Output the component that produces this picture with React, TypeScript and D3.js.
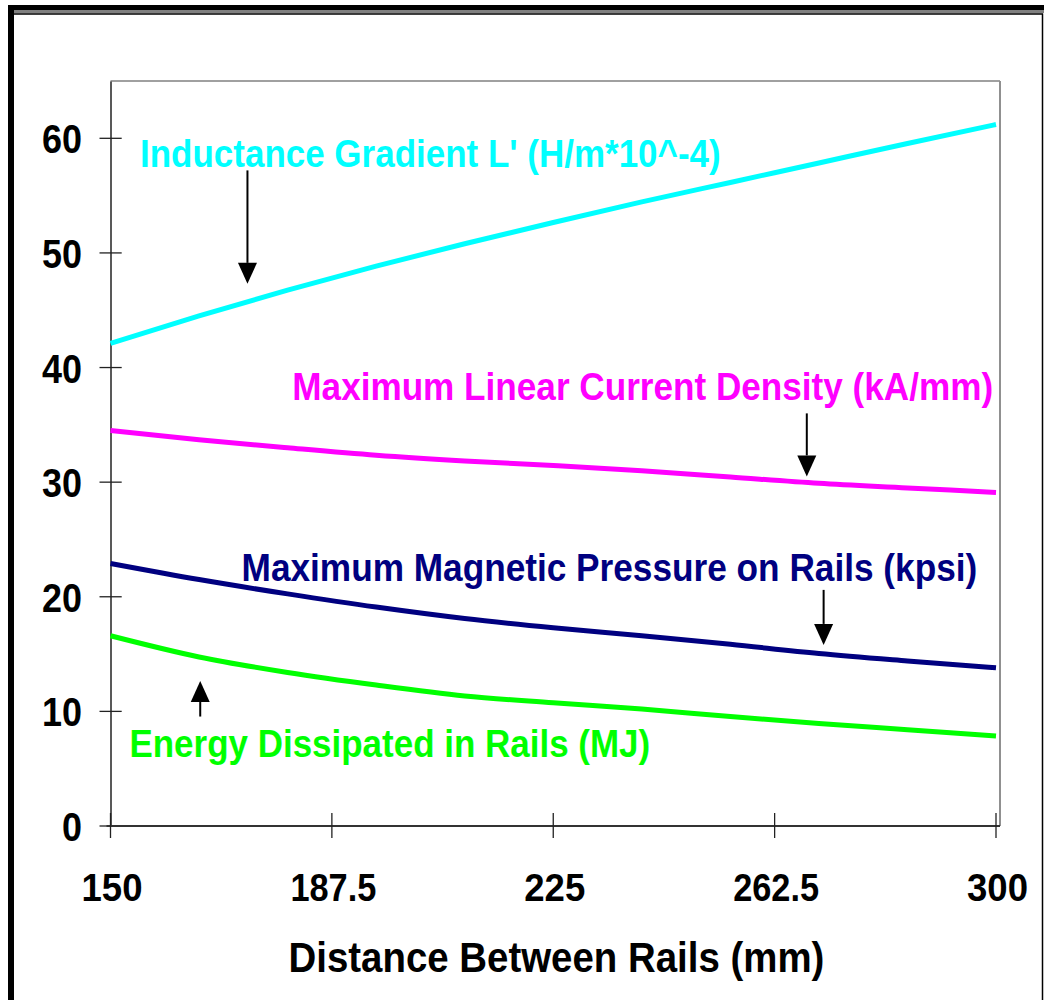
import React, { useEffect, useRef } from "react";
import * as d3 from "d3";

const WIDTH = 1044;
const HEIGHT = 1000;
const PLOT = { LEFT: 110.5, RIGHT: 996, TOP: 81, BOTTOM: 826, FRAME_RIGHT: 1000 };

// distance between rails (mm)
const distance = [150, 165, 180, 195, 210, 225, 240, 255, 270, 285, 300];
const inductance = [42.1, 44.5, 46.75, 48.85, 50.8, 52.65, 54.45, 56.15, 57.85, 59.55, 61.2];
const currentDensity = [34.5, 33.7, 33.0, 32.35, 31.85, 31.45, 31.0, 30.45, 29.9, 29.5, 29.1];
const pressure = [22.9, 21.5, 20.25, 19.1, 18.1, 17.3, 16.6, 15.85, 15.05, 14.4, 13.8];
const energy = [16.6, 14.75, 13.4, 12.3, 11.35, 10.75, 10.2, 9.55, 8.95, 8.4, 7.85];

const xTicks = [150, 187.5, 225, 262.5, 300];
const yTicks = [0, 10, 20, 30, 40, 50, 60];

const seriesNames = [
  "Inductance Gradient L' (H/m*10^-4)",
  "Maximum Linear Current Density (kA/mm)",
  "Maximum Magnetic Pressure on Rails (kpsi)",
  "Energy Dissipated in Rails (MJ)",
];
const seriesColors = ["#00FFFF", "#FF00FF", "#000080", "#00FF00"];
const seriesValues = [inductance, currentDensity, pressure, energy];

// label anchor (data coords, left/baseline) and text width in px
const labelX = [155.0, 180.8, 172.2, 153.2];
const labelY = [57.5, 37.2, 21.4, 5.99];
const labelW = [581, 701, 736, 521];

// arrows: x, tail y, tip y (data coords)
const arrowX = [173.2, 267.95, 270.8, 165.2];
const arrowFrom = [57.2, 36.0, 20.6, 9.55];
const arrowTo = [47.3, 30.5, 15.8, 12.65];

const FONT = "'Liberation Sans', Arial, Helvetica, sans-serif";

// draws bold text squeezed horizontally to a given width
function fitText(
  parent: d3.Selection<any, unknown, null, undefined>,
  str: string,
  px: number,
  py: number,
  size: number,
  width: number,
  color: string,
  anchor: "start" | "middle" | "end" = "start"
) {
  const t = parent.append("text")
    .attr("font-family", FONT).attr("font-weight", "bold").attr("font-size", size)
    .attr("fill", color).attr("text-anchor", anchor)
    .text(str);
  const natural = (t.node() as SVGTextElement).getComputedTextLength() || width;
  const k = width / natural;
  t.attr("transform", `translate(${px},${py}) scale(${k},1)`);
  return t;
}

export default function App() {
  const ref = useRef<SVGSVGElement | null>(null);

  useEffect(() => {
    const svg = d3.select(ref.current);
    svg.selectAll("*").remove();

    const x = d3.scaleLinear().domain([150, 300]).range([PLOT.LEFT, PLOT.RIGHT]);
    const y = d3.scaleLinear().domain([0, 65]).range([PLOT.BOTTOM, PLOT.TOP]);

    // outer frame
    svg.append("rect").attr("x", 8).attr("y", 5).attr("width", WIDTH - 8).attr("height", 5).attr("fill", "#000");
    svg.append("rect").attr("x", 8).attr("y", 5).attr("width", 6).attr("height", HEIGHT - 5).attr("fill", "#000");
    svg.append("rect").attr("x", 14).attr("y", 10).attr("width", WIDTH - 14).attr("height", 3.3).attr("fill", "#808080");
    svg.append("line").attr("x1", 14).attr("x2", 1043).attr("y1", 14).attr("y2", 14).attr("stroke", "#000").attr("stroke-width", 1.5);
    svg.append("line").attr("x1", 1042.5).attr("x2", 1042.5).attr("y1", 14).attr("y2", HEIGHT).attr("stroke", "#000").attr("stroke-width", 1.5);

    // plot area border
    svg.append("line").attr("x1", PLOT.LEFT).attr("x2", PLOT.FRAME_RIGHT).attr("y1", PLOT.TOP).attr("y2", PLOT.TOP)
      .attr("stroke", "#808080").attr("stroke-width", 1.5);
    svg.append("line").attr("x1", PLOT.FRAME_RIGHT).attr("x2", PLOT.FRAME_RIGHT).attr("y1", PLOT.TOP).attr("y2", PLOT.BOTTOM)
      .attr("stroke", "#909090").attr("stroke-width", 2);

    // y axis
    const yAxis = svg.append("g").attr("transform", `translate(${PLOT.LEFT},0)`)
      .call(d3.axisLeft(y).tickValues(yTicks).tickSize(0).tickFormat(() => ""));
    yAxis.select(".domain").attr("stroke", "#222").attr("stroke-width", 1.5);
    yAxis.selectAll(".tick").remove();
    yTicks.forEach((t) => {
      svg.append("line").attr("x1", 99.5).attr("x2", 121.7).attr("y1", y(t)).attr("y2", y(t))
        .attr("stroke", "#222").attr("stroke-width", 1.3);
      fitText(svg, String(t), 82, y(t) + 15, 40, t === 0 ? 20 : 40, "#000", "end");
    });

    // x axis
    svg.append("line").attr("x1", PLOT.LEFT - 4).attr("x2", PLOT.FRAME_RIGHT).attr("y1", PLOT.BOTTOM).attr("y2", PLOT.BOTTOM)
      .attr("stroke", "#333").attr("stroke-width", 2.2);
    xTicks.forEach((t) => {
      svg.append("line").attr("x1", x(t)).attr("x2", x(t)).attr("y1", PLOT.BOTTOM - 13).attr("y2", PLOT.BOTTOM + 12)
        .attr("stroke", "#222").attr("stroke-width", 1.3);
      fitText(svg, String(t), x(t) + 1.5, 900.5, 39, String(t).length > 3 ? 86 : 61, "#000", "middle");
    });

    fitText(svg, "Distance Between Rails (mm)", 288.5, 971.5, 43, 536, "#000");

    // series
    const line = d3.line<number>()
      .x((_, i) => x(distance[i]))
      .y((d) => y(d))
      .curve(d3.curveMonotoneX);

    seriesValues.forEach((vals, s) => {
      svg.append("path").datum(vals).attr("d", line).attr("fill", "none")
        .attr("stroke", seriesColors[s]).attr("stroke-width", 5)
        .attr("stroke-linejoin", "round");
    });

    // labels
    seriesNames.forEach((name, s) => {
      fitText(svg, name, x(labelX[s]), y(labelY[s]), 39.5, labelW[s], seriesColors[s]);
    });

    // arrows
    arrowX.forEach((ax, i) => {
      const px = x(ax);
      const y0 = y(arrowFrom[i]);
      const y1 = y(arrowTo[i]);
      const dir = y1 > y0 ? 1 : -1;
      const headLen = 21;
      const headHalf = 9.5;
      svg.append("line").attr("x1", px).attr("x2", px).attr("y1", y0).attr("y2", y1 - dir * headLen)
        .attr("stroke", "#000").attr("stroke-width", 2);
      svg.append("path")
        .attr("d", `M${px},${y1} L${px - headHalf},${y1 - dir * headLen} L${px + headHalf},${y1 - dir * headLen} Z`)
        .attr("fill", "#000");
    });
  }, []);

  return (
    <svg
      ref={ref}
      width={WIDTH}
      height={HEIGHT}
      style={{ position: "absolute", left: 0, top: 0, background: "#fff" }}
    />
  );
}
